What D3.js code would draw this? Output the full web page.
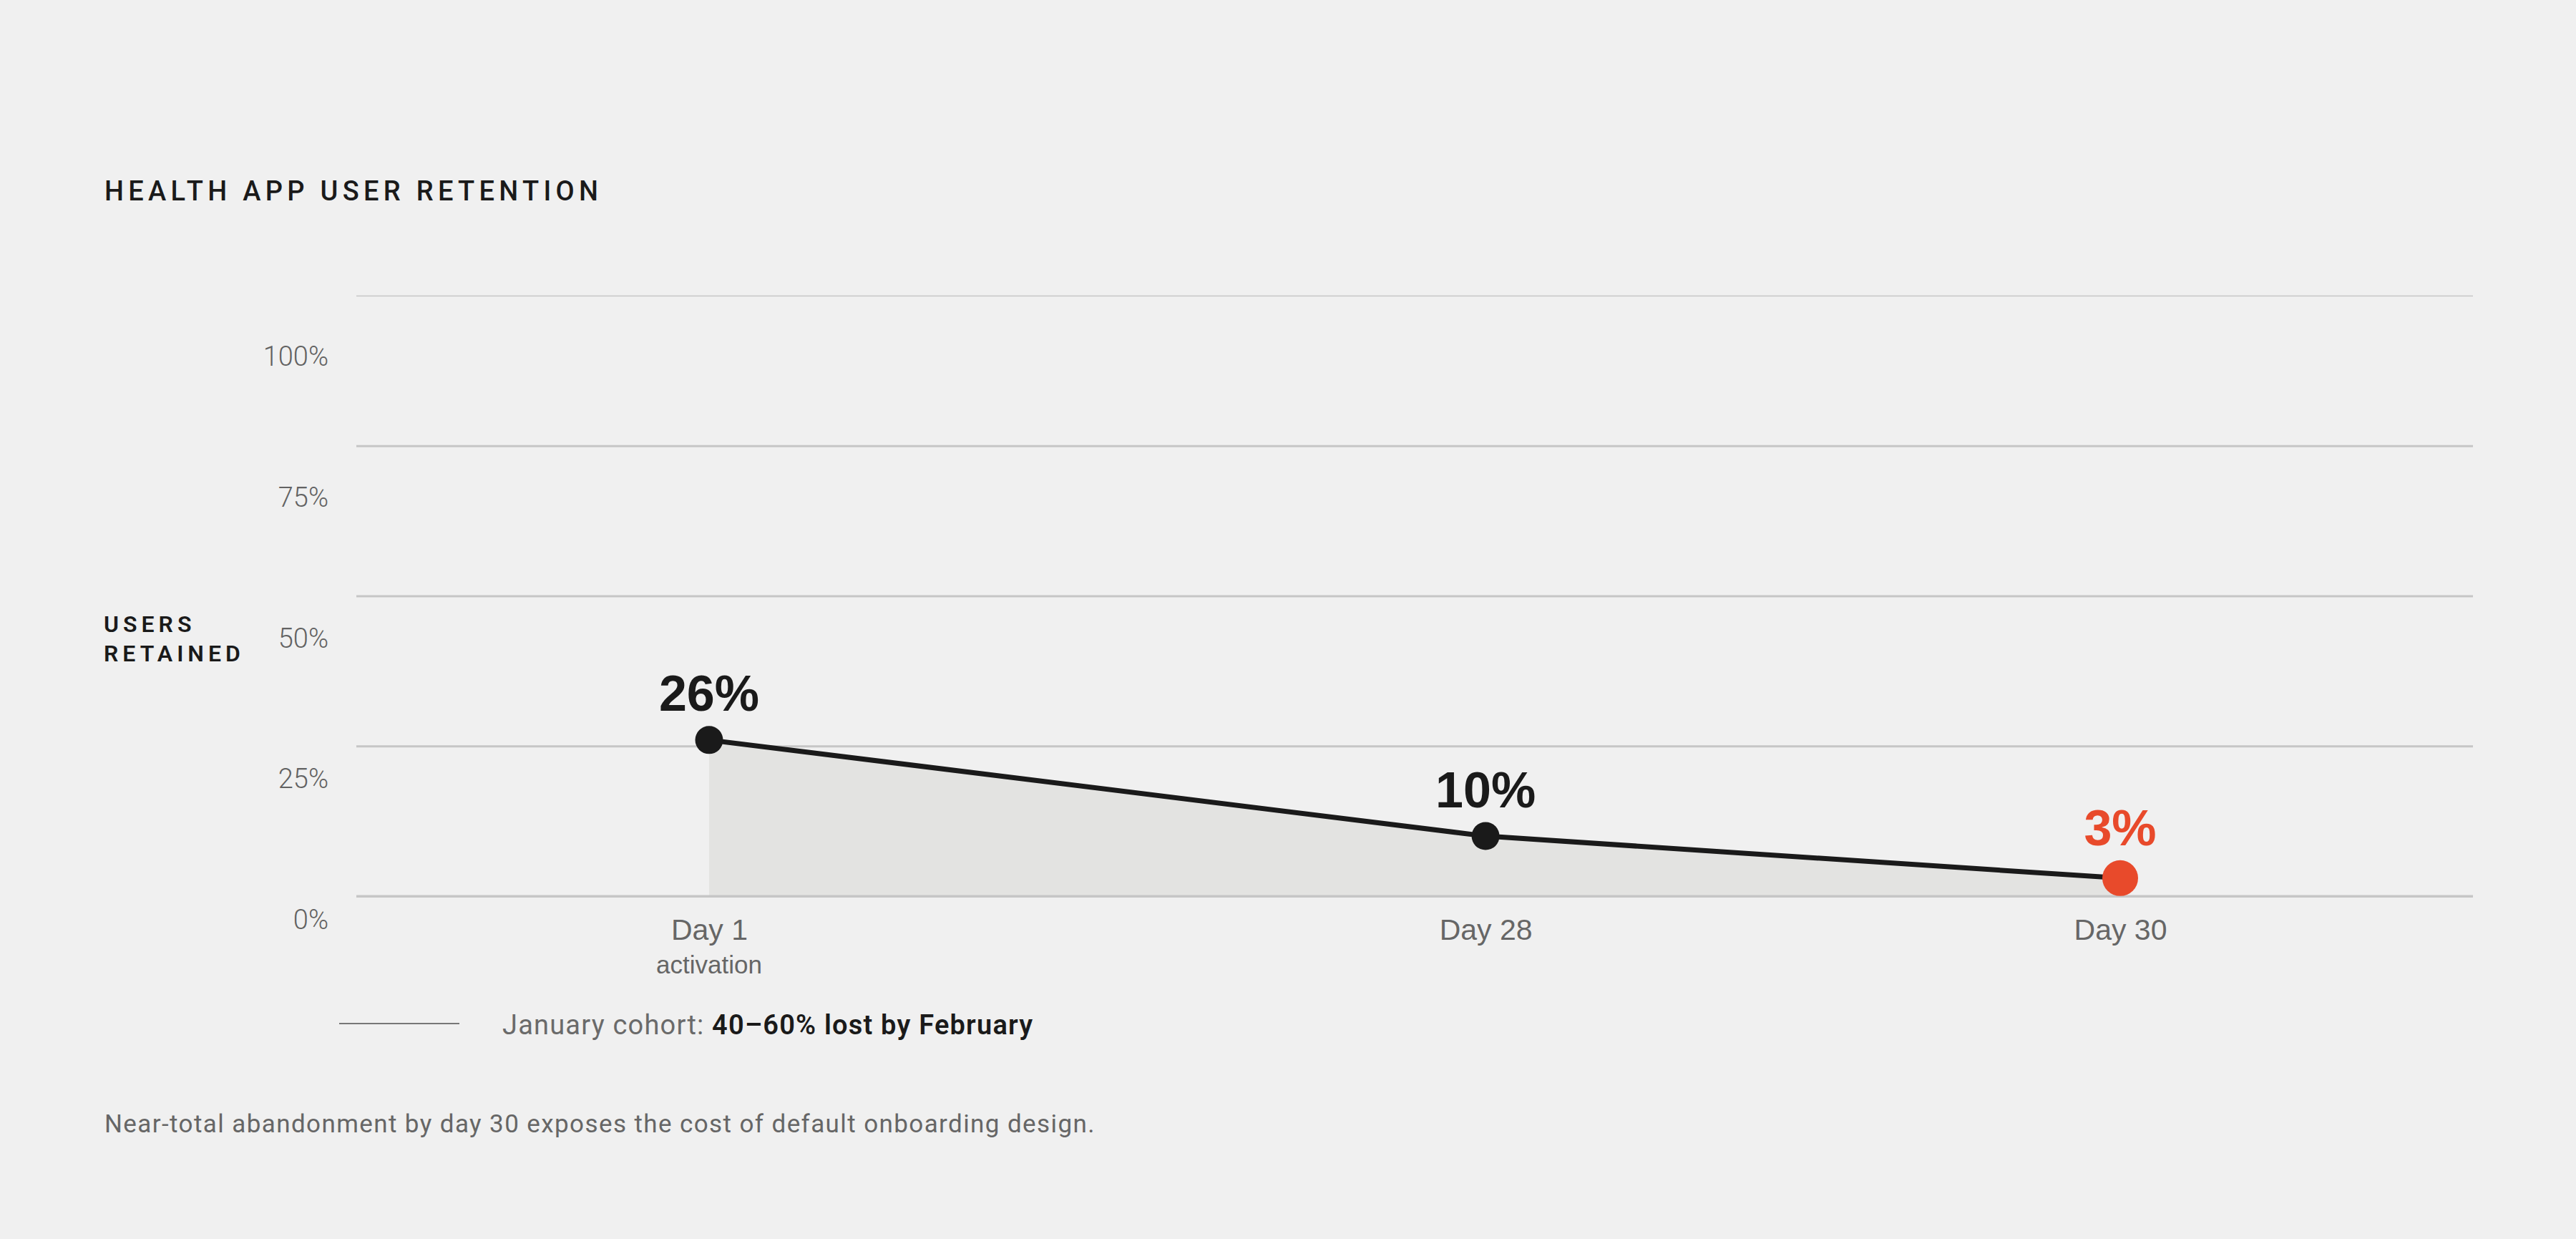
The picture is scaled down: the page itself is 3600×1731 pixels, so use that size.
<!DOCTYPE html>
<html>
<head>
<meta charset="utf-8">
<script src="https://cdn.jsdelivr.net/npm/d3@7"></script>
<style>
  html, body { margin: 0; padding: 0; background: #f0f0f0; }
  svg { display: block; }
  .sans { font-family: Roboto, "Noto Sans", sans-serif; }
  .arial { font-family: "Liberation Sans", Arial, sans-serif; }
</style>
</head>
<body>
<div id="chart"></div>
<script>
// chart data
const days = [1, 28, 30];
const retained = [26, 10, 3];
const dayLabels = ["Day 1", "Day 28", "Day 30"];
const daySubLabels = ["activation", "", ""];
const yTicks = [0, 25, 50, 75, 100];
const highlightDay = 30;

const title = "HEALTH APP USER RETENTION";
const yTitle = ["USERS", "RETAINED"];
const legendLabel = "January cohort: ";
const legendStrong = "40\u201360% lost by February";
const footnote = "Near-total abandonment by day 30 exposes the cost of default onboarding design.";

const W = 3600, H = 1731;
const plot = {left: 498, right: 3456, top: 413, bottom: 1252};
const pw = plot.right - plot.left;

const svg = d3.select("#chart").append("svg")
    .attr("width", W)
    .attr("height", H);

svg.append("rect").attr("width", W).attr("height", H).attr("fill", "#f0f0f0");

// scales
// days are not evenly spaced in the original, day 28 sits a bit right of centre
const x = d3.scaleLinear()
    .domain(days)
    .range([plot.left + pw / 6, plot.left + pw * 0.5335, plot.left + pw * 5 / 6]);

const y = d3.scaleLinear()
    .domain([0, 100])
    .range([plot.bottom, plot.top]);

// tick labels sit in their own evenly spaced column, not on the grid lines
const yLabel = d3.scaleLinear()
    .domain([0, 100])
    .range([1284, 497]);

// title
svg.append("text")
    .attr("class", "sans")
    .attr("x", 146).attr("y", 280)
    .attr("font-size", 38)
    .attr("font-weight", 500)
    .attr("letter-spacing", "6.3px")
    .attr("fill", "#1a1a1a")
    .text(title);

// grid lines
const grid = svg.append("g")
    .attr("transform", `translate(${plot.left},0)`)
    .call(d3.axisLeft(y).tickValues(yTicks).tickSize(-pw).tickFormat(""));
grid.select(".domain").remove();
grid.selectAll(".tick line")
    .attr("stroke", "#c6c6c6")
    .attr("stroke-width", d => d === 100 ? 1.5 : 2.8);

// y tick labels
const yAxis = svg.append("g")
    .attr("class", "sans")
    .attr("transform", "translate(459,0)")
    .call(d3.axisLeft(yLabel).tickValues(yTicks).tickSize(0).tickPadding(0)
        .tickFormat(d => d + "%"));
yAxis.select(".domain").remove();
yAxis.selectAll("text")
    .attr("font-family", "Roboto, sans-serif")
    .attr("font-size", 38)
    .attr("font-weight", 300)
    .attr("fill", "#626262")
    .attr("dy", "0.36em");

// y title
svg.append("text")
    .attr("class", "sans")
    .attr("x", 145)
    .attr("font-size", 32)
    .attr("font-weight", 600)
    .attr("letter-spacing", "6px")
    .attr("fill", "#1a1a1a")
    .selectAll("tspan")
    .data(yTitle)
    .join("tspan")
    .attr("x", 145)
    .attr("y", (d, i) => 883 + i * 41)
    .text(d => d);

// area under the line
const pts = days.map((d, i) => ({day: d, value: retained[i]}));

svg.append("path")
    .datum(pts)
    .attr("fill", "#e3e3e1")
    .attr("d", d3.area()
        .x(d => x(d.day))
        .y0(y(0))
        .y1(d => y(d.value)));

// redraw baseline on top of the area
svg.append("line")
    .attr("x1", plot.left).attr("x2", plot.right)
    .attr("y1", y(0)).attr("y2", y(0))
    .attr("stroke", "#c6c6c6")
    .attr("stroke-width", 2.8);

// line
svg.append("path")
    .datum(pts)
    .attr("fill", "none")
    .attr("stroke", "#1a1a1a")
    .attr("stroke-width", 7)
    .attr("d", d3.line()
        .x(d => x(d.day))
        .y(d => y(d.value)));

// points
const radius = d => d.day === highlightDay ? 25 : 19.5;
svg.append("g")
    .selectAll("circle")
    .data(pts)
    .join("circle")
    .attr("cx", d => x(d.day))
    .attr("cy", d => y(d.value))
    .attr("r", radius)
    .attr("fill", d => d.day === highlightDay ? "#e84a2b" : "#1a1a1a");

// value labels
svg.append("g")
    .selectAll("text")
    .data(pts)
    .join("text")
    .attr("class", "arial")
    .attr("x", d => x(d.day))
    .attr("y", d => y(d.value) - radius(d) - 21)
    .attr("text-anchor", "middle")
    .attr("font-size", 70)
    .attr("font-weight", 700)
    .attr("fill", d => d.day === highlightDay ? "#e84a2b" : "#1a1a1a")
    .text(d => d.value + "%");

// x axis labels
const xAxis = svg.append("g")
    .attr("class", "arial")
    .attr("transform", `translate(0,${plot.bottom})`)
    .call(d3.axisBottom(x).tickValues(days).tickSize(0)
        .tickFormat((d, i) => dayLabels[i]));
xAxis.select(".domain").remove();
xAxis.selectAll("text")
    .attr("font-family", "'Liberation Sans', Arial, sans-serif")
    .attr("font-size", 41)
    .attr("fill", "#666")
    .attr("y", 61)
    .attr("dy", 0);

svg.append("g")
    .selectAll("text")
    .data(days.filter((d, i) => daySubLabels[i]))
    .join("text")
    .attr("class", "arial")
    .attr("x", d => x(d))
    .attr("y", plot.bottom + 108)
    .attr("text-anchor", "middle")
    .attr("font-size", 35)
    .attr("fill", "#666")
    .text(d => daySubLabels[days.indexOf(d)]);

// legend
svg.append("line")
    .attr("x1", 474).attr("x2", 642)
    .attr("y1", 1430).attr("y2", 1430)
    .attr("stroke", "#777")
    .attr("stroke-width", 2.2);

const leg = svg.append("text")
    .attr("class", "sans")
    .attr("x", 702).attr("y", 1445)
    .attr("font-size", 38)
    .attr("letter-spacing", "1.2px");
leg.append("tspan")
    .attr("fill", "#6a6a6a")
    .attr("font-weight", 400)
    .text(legendLabel);
leg.append("tspan")
    .attr("fill", "#1a1a1a")
    .attr("font-weight", 600)
    .text(legendStrong);

// footnote
svg.append("text")
    .attr("class", "sans")
    .attr("x", 146).attr("y", 1582)
    .attr("font-size", 35)
    .attr("letter-spacing", "1.4px")
    .attr("fill", "#666")
    .text(footnote);
</script>
</body>
</html>
